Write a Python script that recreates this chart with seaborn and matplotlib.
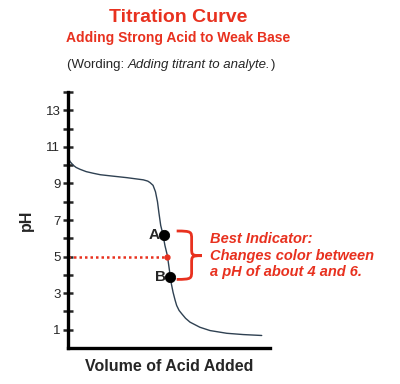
import numpy as np
import pandas as pd
import matplotlib.pyplot as plt
import seaborn as sns
from matplotlib.path import Path
from matplotlib.patches import PathPatch

# Data
volume = [0, 1.0, 2.6, 4.0, 5.9, 9.0, 12.5, 16.0, 20.8, 29.1, 37.3, 39.5, 40.6,
          42.1, 43.3, 44.3, 45.0, 45.9, 46.9, 48.0, 49.2, 50.1, 51.0, 52.0,
          53.0, 53.8, 55.0, 56.3, 58.2, 60.4, 65.3, 70.3, 78.6, 86.8, 95.9]
ph = [10.45, 10.2, 10.0, 9.88, 9.78, 9.65, 9.56, 9.48, 9.42, 9.32, 9.2, 9.13, 9.05,
      8.9, 8.55, 8.0, 7.4, 6.7, 6.26, 5.6, 5.05, 4.34, 3.6, 3.05,
      2.62, 2.32, 2.05, 1.87, 1.62, 1.41, 1.13, 0.95, 0.8, 0.73, 0.68]
point_labels = ["A", "B"]
point_vol = [47.6, 50.7]
point_ph = [6.2, 3.88]
indicator_ph = 5.0
indicator_vol = 49.2
ytick_labels = [1, 3, 5, 7, 9, 11, 13]

RED = "#e8311f"
CURVE = "#2f4152"

sns.set_style("white")
plt.rcParams["font.family"] = ["Liberation Sans", "DejaVu Sans"]

fig = plt.figure(figsize=(4, 3.84), dpi=100)
ax = fig.add_axes([0.17, 0.094, 0.505, 0.666])

curve = pd.DataFrame({"volume": volume, "ph": ph})
sns.lineplot(data=curve, x="volume", y="ph", sort=False, estimator=None,
             color=CURVE, linewidth=1.0, ax=ax,
             solid_joinstyle="round", solid_capstyle="round")

pts = pd.DataFrame({"volume": point_vol, "ph": point_ph, "label": point_labels})
sns.scatterplot(data=pts, x="volume", y="ph", color="black", s=55,
                edgecolor="black", zorder=5, ax=ax)
for _, r in pts.iterrows():
    ax.text(r["volume"] - 2.2, r["ph"], r["label"], ha="right", va="center",
            fontsize=11, fontweight="bold")

# dotted line at pH 5 to the curve
ax.plot([0, indicator_vol], [indicator_ph, indicator_ph], color=RED,
        linestyle=(0, (1, 1.2)), linewidth=1.8)
ax.plot([indicator_vol], [indicator_ph], "o", color=RED, markersize=3.5, zorder=6)

# curly brace
x0, xm, x1 = 53.8, 61.2, 66.2
yt, ym, yb = 6.4, 5.05, 3.75
verts = [(x0, yt), (xm, yt), (xm, yt - 0.05), (xm, yt - 0.45),
         (xm, ym + 0.4),
         (xm, ym + 0.05), (xm, ym), (x1, ym),
         (xm, ym), (xm, ym - 0.05), (xm, ym - 0.4),
         (xm, yb + 0.45),
         (xm, yb + 0.05), (xm, yb), (x0, yb)]
codes = [Path.MOVETO, Path.CURVE4, Path.CURVE4, Path.CURVE4,
         Path.LINETO,
         Path.CURVE4, Path.CURVE4, Path.CURVE4,
         Path.CURVE4, Path.CURVE4, Path.CURVE4,
         Path.LINETO,
         Path.CURVE4, Path.CURVE4, Path.CURVE4]
ax.add_patch(PathPatch(Path(verts, codes), fill=False, edgecolor=RED,
                       linewidth=2.0, clip_on=False))

ax.text(70.5, ym, "Best Indicator:\nChanges color between\na pH of about 4 and 6.",
        color=RED, fontsize=10.5, fontweight="bold", fontstyle="italic",
        ha="left", va="center", linespacing=1.25, clip_on=False)

ax.set_xlim(0, 100)
ax.set_ylim(0, 14)
ax.set_yticks(range(1, 15))
ax.set_yticklabels([str(v) if v in ytick_labels else "" for v in range(1, 15)])
ax.set_xticks([])
ax.tick_params(axis="y", direction="inout", length=7, width=1.8,
               labelsize=9.5, pad=2, left=True)
for side in ["top", "right"]:
    ax.spines[side].set_visible(False)
for side in ["left", "bottom"]:
    ax.spines[side].set_linewidth(2.4)
    ax.spines[side].set_color("black")

ax.set_xlabel("Volume of Acid Added", fontsize=11.5, fontweight="bold", labelpad=8)
ax.set_ylabel("pH", fontsize=11.5, fontweight="bold", labelpad=8)

fig.text(0.445, 0.955, "Titration Curve", color=RED, fontsize=14,
         fontweight="bold", ha="center", va="center")
fig.text(0.445, 0.9, "Adding Strong Acid to Weak Base", color=RED, fontsize=10,
         fontweight="bold", ha="center", va="center")

# mixed upright / italic line, pieces chained one after another
t1 = fig.text(0.168, 0.822, "(Wording: ", fontsize=9.5, ha="left", va="baseline")
t2 = ax.annotate("Adding titrant to analyte.", xy=(1, 0), xycoords=t1,
                 fontsize=9.5, fontstyle="italic", va="bottom", ha="left")
ax.annotate(")", xy=(1, 0), xycoords=t2, fontsize=9.5, va="bottom", ha="left")

fig.savefig("out.png", dpi=100)
